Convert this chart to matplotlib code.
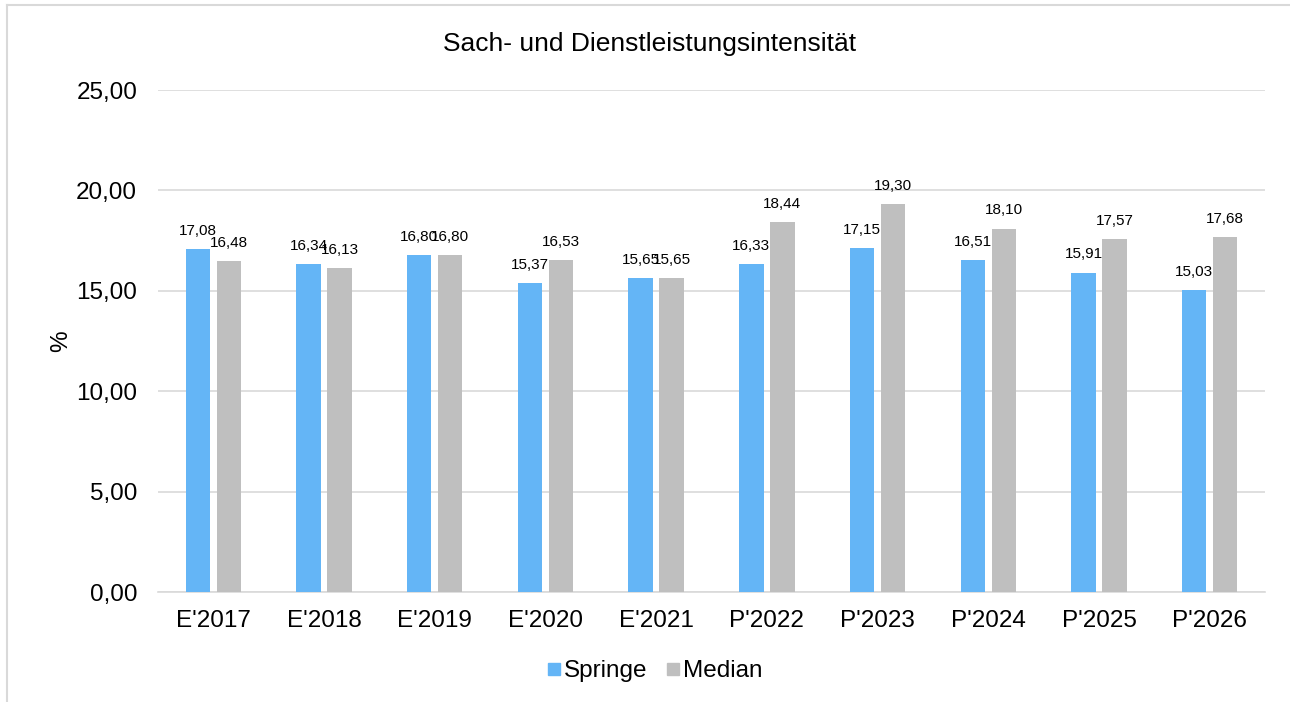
import matplotlib.pyplot as plt
import numpy as np
from matplotlib.lines import Line2D

plt.rcParams['font.family'] = ['Liberation Sans', 'DejaVu Sans']

# data
categories = ["E'2017", "E'2018", "E'2019", "E'2020", "E'2021",
              "P'2022", "P'2023", "P'2024", "P'2025", "P'2026"]
springe = [17.08, 16.34, 16.80, 15.37, 15.65, 16.33, 17.15, 16.51, 15.91, 15.03]
median = [16.48, 16.13, 16.80, 16.53, 15.65, 18.44, 19.30, 18.10, 17.57, 17.68]

BLUE = '#64B5F6'
GRAY = '#BFBFBF'
GRID = '#D9D9D9'

fig = plt.figure(figsize=(12.9, 7.02), dpi=100)
ax = fig.add_axes([158 / 1290, 1 - 592 / 702, 1107 / 1290, 502 / 702])

x = np.arange(len(categories))
w = 0.22
off = 0.14
b1 = ax.bar(x - off, springe, w, color=BLUE, label='Springe', zorder=3)
b2 = ax.bar(x + off, median, w, color=GRAY, label='Median', zorder=3)

def fmt(v):
    return f'{v:.2f}'.replace('.', ',')

for bars, vals in ((b1, springe), (b2, median)):
    for r, v in zip(bars, vals):
        ax.annotate(fmt(v), (r.get_x() + r.get_width() / 2, v),
                    xytext=(0, 8), textcoords='offset points',
                    ha='center', va='bottom', fontsize=11, color='#000000')

ax.set_xlim(-0.5, len(categories) - 0.5)
ax.set_ylim(0, 25)
ax.set_yticks(np.arange(0, 26, 5))
ax.set_yticklabels([fmt(t) for t in np.arange(0, 26, 5)])
ax.set_xticks(x)
ax.set_xticklabels(categories)
ax.tick_params(axis='both', length=0, labelsize=17.5)
ax.tick_params(axis='y', pad=15)
ax.tick_params(axis='x', pad=13)
ax.grid(axis='y', color=GRID, linewidth=1.2, zorder=0)
for s in ('top', 'right', 'left'):
    ax.spines[s].set_visible(False)
ax.spines['bottom'].set_color(GRID)
ax.spines['bottom'].set_linewidth(1.2)
ax.set_ylabel('%', fontsize=17.5)
ax.yaxis.set_label_coords(-0.078, 0.5)

fig.text(650 / 1290, 1 - 44 / 702, 'Sach- und Dienstleistungsintensität',
         ha='center', va='center', fontsize=19)

handles = [Line2D([], [], marker='s', linestyle='', markersize=9,
                  markerfacecolor=c, markeredgecolor=c) for c in (BLUE, GRAY)]
fig.legend(handles, ['Springe', 'Median'], loc='center',
           bbox_to_anchor=(654 / 1290, 1 - 671 / 702), ncol=2, frameon=False,
           fontsize=17.5, handletextpad=0.05, columnspacing=0.7, handlelength=0.7)

# chart border (top and left edges visible)
fig.add_artist(Line2D([7 / 1290, 1], [1 - 5 / 702, 1 - 5 / 702],
                      color=GRID, linewidth=1.5, transform=fig.transFigure))
fig.add_artist(Line2D([7 / 1290, 7 / 1290], [0, 1 - 5 / 702],
                      color=GRID, linewidth=1.5, transform=fig.transFigure))

fig.savefig('out.png', dpi=100, facecolor='white')
